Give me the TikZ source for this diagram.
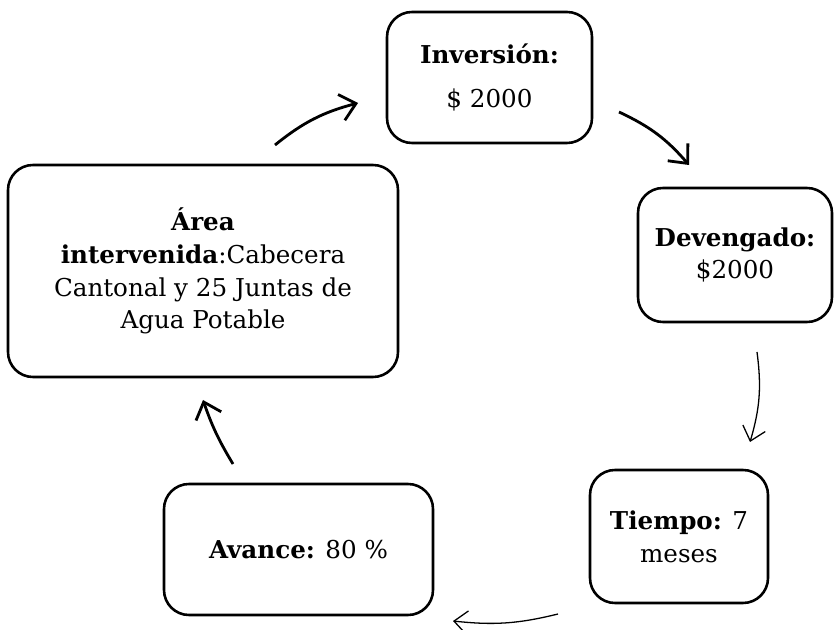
\documentclass[tikz,border=0pt]{standalone}
\usepackage{fontspec}
\setmainfont{DejaVu Serif}
\usepackage{tikz}
\usetikzlibrary{arrows.meta,calc}
\tikzstyle{box} = [draw, line width=2.2pt, rounded corners=0.75cm, align=center, inner sep=0pt, font=\fontsize{21}{28}\selectfont]
\tikzstyle{thickarrow} = [line width=2.4pt, -{Straight Barb[length=4.5mm,width=8mm]}]
\tikzstyle{thinarrow} = [line width=1.1pt, -{Straight Barb[length=4mm,width=7mm]}]

\begin{document}
\begin{tikzpicture}
    \useasboundingbox (0,0) rectangle (25.05,18.87);
    % Nodes
    \node [box, minimum width=6.15cm, minimum height=3.93cm] (inversion) at (14.685,16.545) {\textbf{Inversión:}\\[10pt]\$ 2000};
    \node [box, minimum width=5.82cm, minimum height=4.02cm] (devengado) at (22.05,11.22) {\textbf{Devengado:}\\\$2000};
    \node [box, minimum width=5.34cm, minimum height=3.99cm] (tiempo) at (20.37,2.775) {\textbf{Tiempo:} 7\\meses};
    \node [box, minimum width=8.07cm, minimum height=3.93cm] (avance) at (8.955,2.385) {\textbf{Avance:} 80 \%};
    \node [box, minimum width=11.7cm, minimum height=6.36cm] (area) at (6.09,10.74) {\textbf{Área}\\\textbf{intervenida}:Cabecera\\Cantonal y 25 Juntas de\\Agua Potable};

    % Arrow ends
    \coordinate (a1s) at (8.25,14.52);
    \coordinate (a1e) at (10.74,15.78);
    \coordinate (a2s) at (18.57,15.51);
    \coordinate (a2e) at (20.67,13.92);
    \coordinate (a3s) at (22.71,8.31);
    \coordinate (a3e) at (22.50,5.61);
    \coordinate (a4s) at (16.74,0.45);
    \coordinate (a4e) at (13.59,0.24);
    \coordinate (a5s) at (6.99,4.95);
    \coordinate (a5e) at (6.09,6.87);

    % Connections
    \draw [thickarrow] (a1s) to [bend left=12] (a1e);
    \draw [thickarrow] (a2s) to [bend left=12] (a2e);
    \draw [thinarrow] (a3s) to [bend left=12] (a3e);
    \draw [thinarrow] (a4s) to [bend left=10] (a4e);
    \draw [thickarrow] (a5s) to [bend left=6] (a5e);
\end{tikzpicture}
\end{document}
